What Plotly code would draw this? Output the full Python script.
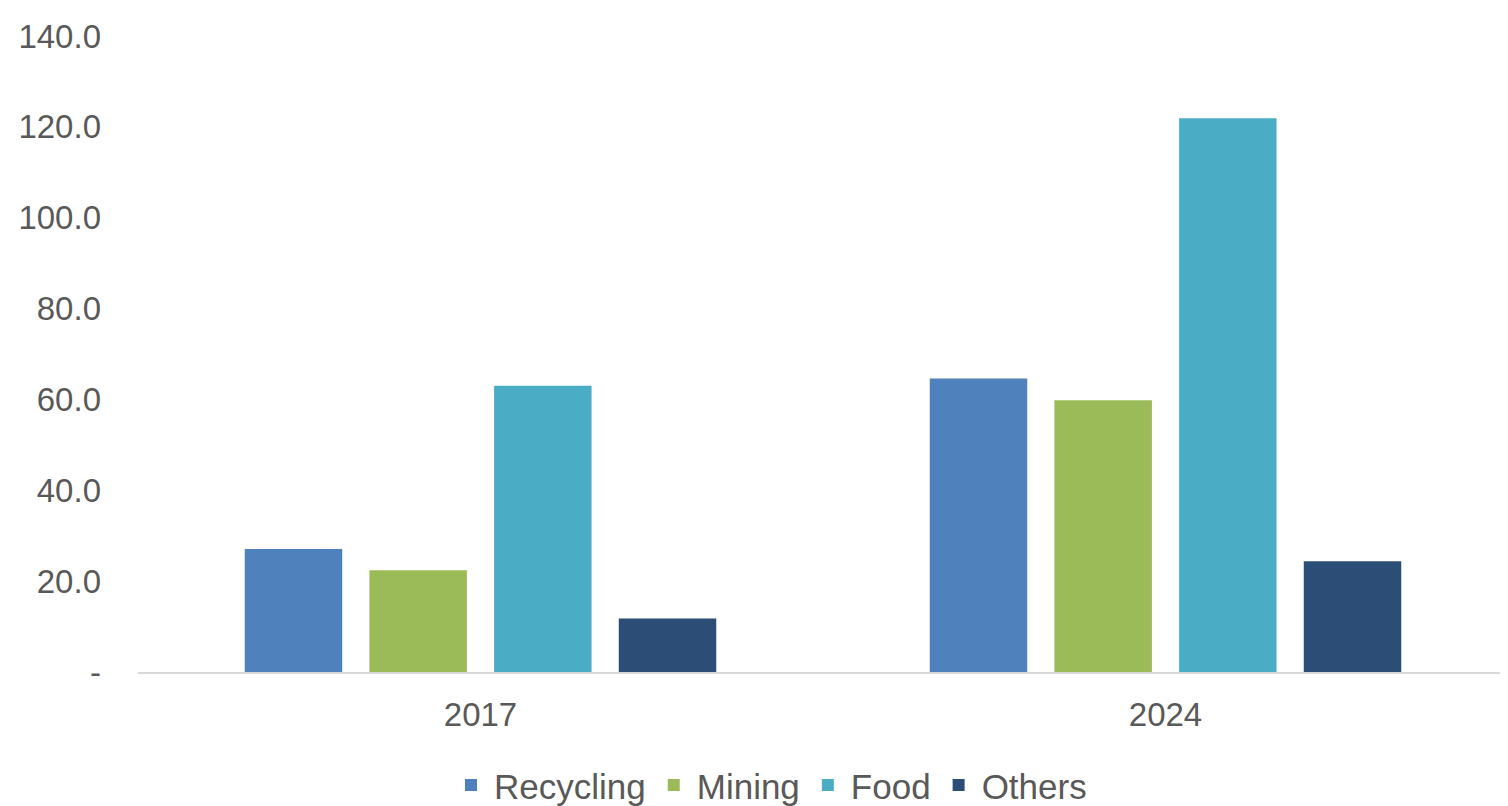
import plotly.graph_objects as go

years = ["2017", "2024"]
series_names = ["Recycling", "Mining", "Food", "Others"]
recycling = [27.1, 64.6]
mining = [22.4, 59.8]
food = [63.0, 121.9]
others = [11.8, 24.4]
colors = ["#4F81BD", "#9BBB59", "#4BACC6", "#2C4D75"]

tick_vals = [0, 20, 40, 60, 80, 100, 120, 140]
tick_text = ["-", "20.0", "40.0", "60.0", "80.0", "100.0", "120.0", "140.0"]

values = [recycling, mining, food, others]

fig = go.Figure()
for name, vals, col in zip(series_names, values, colors):
    fig.add_trace(go.Bar(name=name, x=years, y=vals, marker=dict(color=col, line=dict(width=0))))

font_family = "Liberation Sans, Arial, sans-serif"
fig.update_layout(
    width=1500, height=798,
    margin=dict(l=130, r=0, t=28, b=134, autoexpand=False),
    paper_bgcolor="white", plot_bgcolor="white",
    barmode="group", bargap=0.272, bargroupgap=0.218,
    font=dict(family=font_family, size=33, color="#595959"),
    showlegend=True,
    legend=dict(orientation="h", x=0.508, xanchor="center", xref="container",
                y=0.026, yanchor="middle", yref="container",
                font=dict(size=35, color="#595959"), itemwidth=36, traceorder="normal"),
    xaxis=dict(showline=True, linecolor="#D9D9D9", linewidth=2, ticks="",
               tickfont=dict(size=33, color="#595959"), ticklabelstandoff=12,
               showgrid=False),
    yaxis=dict(range=[0, 140], tickvals=tick_vals, ticktext=tick_text, showgrid=False,
               zeroline=False, showline=False, ticks="",
               tickfont=dict(size=33, color="#595959"), ticklabelstandoff=36),
)

fig.write_html("out.html")
